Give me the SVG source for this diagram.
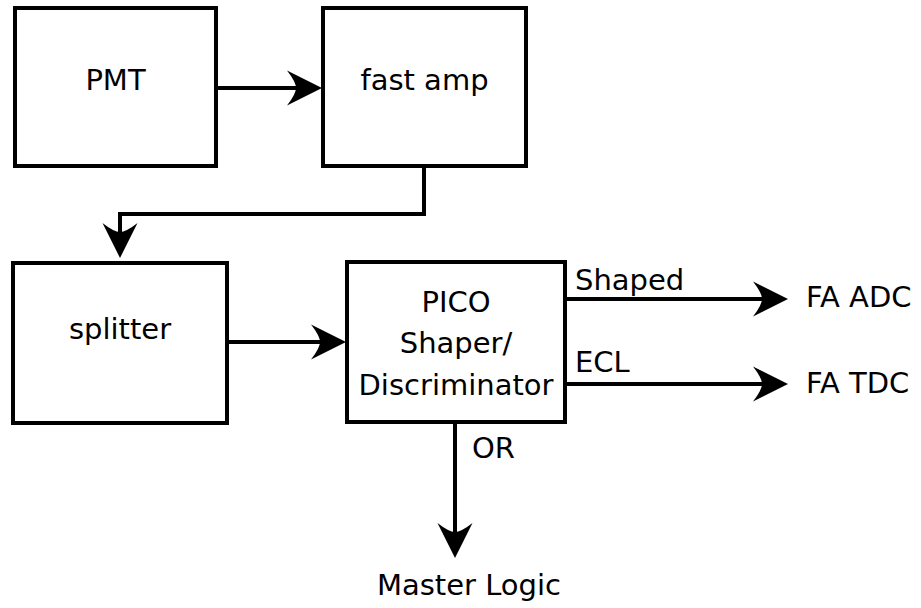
<svg xmlns="http://www.w3.org/2000/svg" width="921" height="608" viewBox="0 0 921 608">
<style>
.box{fill:#fff;stroke:#000;stroke-width:4}
.t{font-family:"DejaVu Sans","Liberation Sans",sans-serif;font-size:29px;fill:#000}
.c{text-anchor:middle}
.w{fill:none;stroke:#000;stroke-width:4}
</style>
<defs>
<marker id="ah" viewBox="-36 -19 37 38" markerWidth="37" markerHeight="38" refX="-20" refY="0" orient="auto" markerUnits="userSpaceOnUse" overflow="visible">
<path d="M0,0 L-35,-17.5 Q-26,-6 -26,0 Q-26,6 -35,17.5 Z" fill="#000"/>
</marker>
</defs>
<rect width="921" height="608" fill="#fff"/>
<g id="connectors">
<path class="w" d="M216,88 H302" marker-end="url(#ah)"/>
<path class="w" d="M424,166 V214 H120 V238" marker-end="url(#ah)"/>
<path class="w" d="M227,342 H326" marker-end="url(#ah)"/>
<path class="w" d="M565,299 H768" marker-end="url(#ah)"/>
<path class="w" d="M565,384 H768" marker-end="url(#ah)"/>
<path class="w" d="M455,422 V538" marker-end="url(#ah)"/>
</g>
<g id="pmt">
<rect class="box" x="15" y="8" width="201" height="158"/>
<text class="t c" x="115.5" y="90">PMT</text>
</g>
<g id="fastamp">
<rect class="box" x="323" y="8" width="203" height="158"/>
<text class="t c" x="424.5" y="90">fast amp</text>
</g>
<g id="splitter">
<rect class="box" x="13" y="263" width="214" height="160"/>
<text class="t c" x="120" y="339">splitter</text>
</g>
<g id="pico">
<rect class="box" x="347" y="262" width="218" height="160"/>
<text class="t c" x="456" y="312">PICO</text>
<text class="t c" x="456" y="353">Shaper/</text>
<text class="t c" x="456" y="395">Discriminator</text>
</g>
<g id="labels">
<text class="t" x="575" y="290">Shaped</text>
<text class="t" x="575" y="372">ECL</text>
<text class="t" x="472" y="458">OR</text>
</g>
<g id="faadc"><text class="t" x="806" y="307">FA ADC</text></g>
<g id="fatdc"><text class="t" x="806" y="393">FA TDC</text></g>
<g id="master"><text class="t c" x="469" y="595">Master Logic</text></g>
</svg>
